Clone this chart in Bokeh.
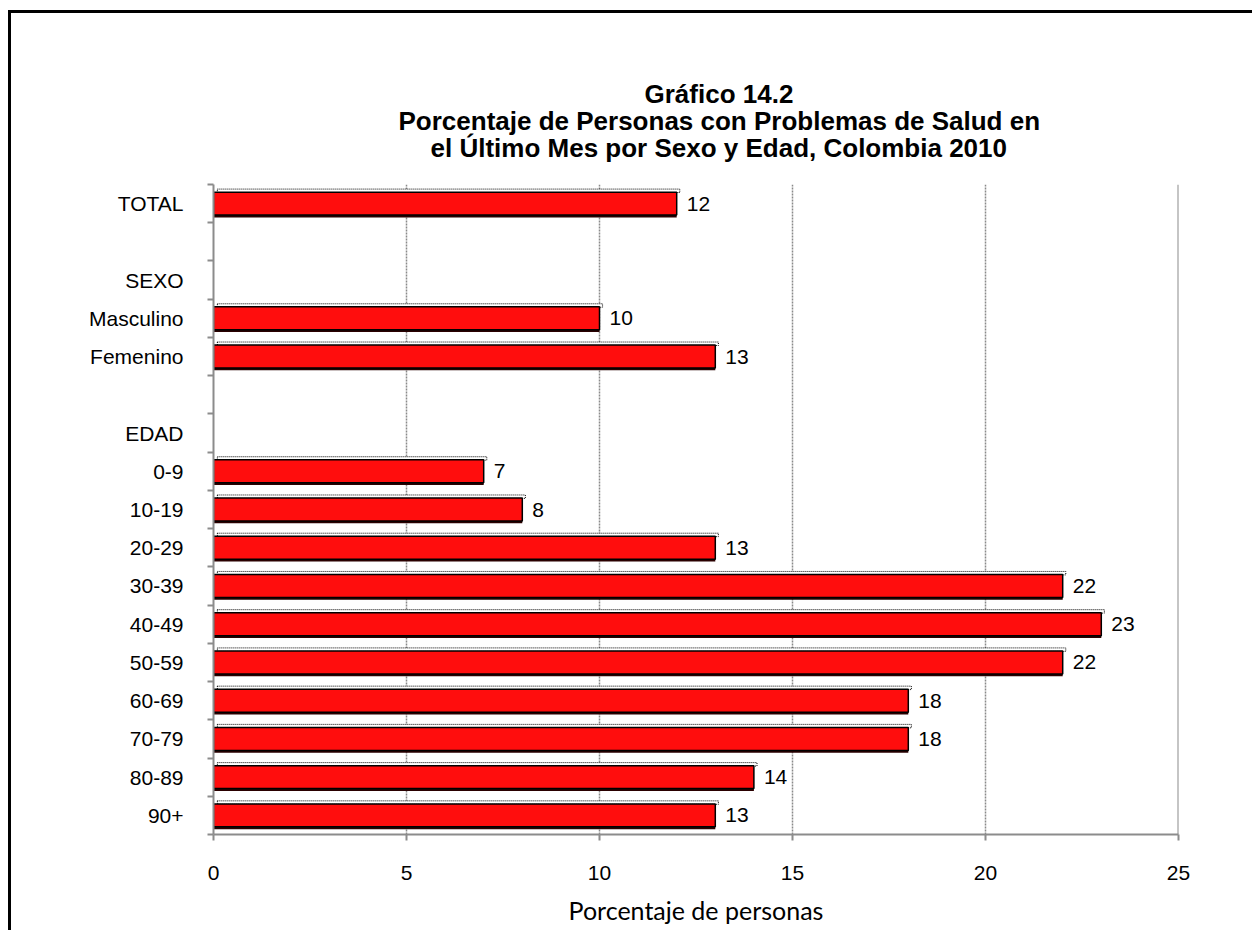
from bokeh.plotting import figure
from bokeh.models import FixedTicker, Span, Title, Range1d
from bokeh.core.properties import value
from bokeh.embed import file_html
from bokeh.resources import INLINE

# ---- data ----
categories = ["TOTAL", "", "SEXO", "Masculino", "Femenino", "", "EDAD",
              "0-9", "10-19", "20-29", "30-39", "40-49", "50-59",
              "60-69", "70-79", "80-89", "90+"]
values = [12, None, None, 10, 13, None, None,
          7, 8, 13, 22, 23, 22, 18, 18, 14, 13]
x_ticks = [0, 5, 10, 15, 20, 25]
title_lines = ["Gráfico 14.2",
               "Porcentaje de Personas con Problemas de Salud en",
               "el Último Mes por Sexo y Edad, Colombia 2010"]
x_title = "Porcentaje de personas"

ys = [i for i, v in enumerate(values) if v is not None]
vs = [v for v in values if v is not None]
labels = [str(v) for v in vs]

FONT = "Arial"
n = len(categories)
x0, x1 = x_ticks[0], x_ticks[-1]

p = figure(width=1244, height=920, output_backend="svg", toolbar_location=None,
           x_range=Range1d(x0, x1), y_range=Range1d(n - 0.5, -0.5),
           min_border_left=202, min_border_right=77, min_border_top=171,
           min_border_bottom=99)
p.styles = {"border-top": "3px solid black", "border-left": "3px solid black",
            "margin-left": "8px", "margin-top": "10px"}
p.outline_line_color = None
p.background_fill_color = "white"
p.border_fill_color = "white"

# grid
p.ygrid.grid_line_color = None
p.xgrid.ticker = FixedTicker(ticks=x_ticks[1:-1])
p.xgrid.grid_line_color = "#8a8a8a"
p.xgrid.grid_line_dash = "2 1"
p.xgrid.grid_line_width = 1.5
p.add_layout(Span(location=x1, dimension="height", line_color="#8c8c8c", line_width=2))

# bars: shadow, top face, front
bh = 0.6
p.hbar(y=[y + 0.06 for y in ys], left=0, right=vs, height=bh,
       fill_color="#2a0000", line_color=None)
p.hbar(y=[y - bh / 2 - 0.035 for y in ys], left=0.1, right=[v + 0.08 for v in vs],
       height=0.09, fill_color="white", line_color="black", line_dash="1 1",
       line_width=1)
p.hbar(y=ys, left=0, right=vs, height=bh, fill_color="#FF0D0D",
       line_color="black", line_width=1.5)

# data labels
p.text(x=vs, y=ys, text=labels, x_offset=10, text_align="left",
       text_baseline="middle", text_font=value(FONT), text_font_size="21px",
       text_color="black")

# y axis
p.yaxis.ticker = FixedTicker(ticks=list(range(n)),
                             minor_ticks=[i - 0.5 for i in range(n + 1)])
p.yaxis.major_label_overrides = {i: c for i, c in enumerate(categories)}
p.yaxis.major_tick_line_color = None
p.yaxis.major_tick_out = 0
p.yaxis.minor_tick_line_color = "#8c8c8c"
p.yaxis.minor_tick_line_width = 2
p.yaxis.minor_tick_out = 6
p.yaxis.minor_tick_in = 0
p.yaxis.axis_line_color = "#8c8c8c"
p.yaxis.axis_line_width = 2
p.yaxis.major_label_standoff = 24
p.yaxis.major_label_text_font = FONT
p.yaxis.major_label_text_font_size = "21px"
p.yaxis.major_label_text_color = "black"

# x axis
p.xaxis.ticker = FixedTicker(ticks=x_ticks)
p.xaxis.minor_tick_line_color = None
p.xaxis.major_tick_line_color = "#8c8c8c"
p.xaxis.major_tick_line_width = 2
p.xaxis.major_tick_out = 6
p.xaxis.major_tick_in = 0
p.xaxis.axis_line_color = "#8c8c8c"
p.xaxis.axis_line_width = 2
p.xaxis.major_label_standoff = 25
p.xaxis.major_label_text_font = FONT
p.xaxis.major_label_text_font_size = "21px"
p.xaxis.major_label_text_color = "black"
p.xaxis.axis_label = x_title
p.xaxis.axis_label_text_font = "Lato"
p.xaxis.axis_label_text_font_size = "25px"
p.xaxis.axis_label_text_font_style = "normal"
p.xaxis.axis_label_text_color = "black"
p.xaxis.axis_label_standoff = 12

# spacer between plot area and title block
p.add_layout(Title(text=" ", text_font_size="1px", standoff=21), "above")

# title: three lines, each centred near x=718 on the page (added closest-first)
title_offsets = [431, 185, 217]
for line, off in reversed(list(zip(title_lines, title_offsets))):
    p.add_layout(Title(text=line, align="left", offset=off, standoff=-5,
                       text_font=FONT, text_font_size="26px",
                       text_font_style="bold", text_color="black"), "above")

open("out.html", "w").write(file_html(p, INLINE))
